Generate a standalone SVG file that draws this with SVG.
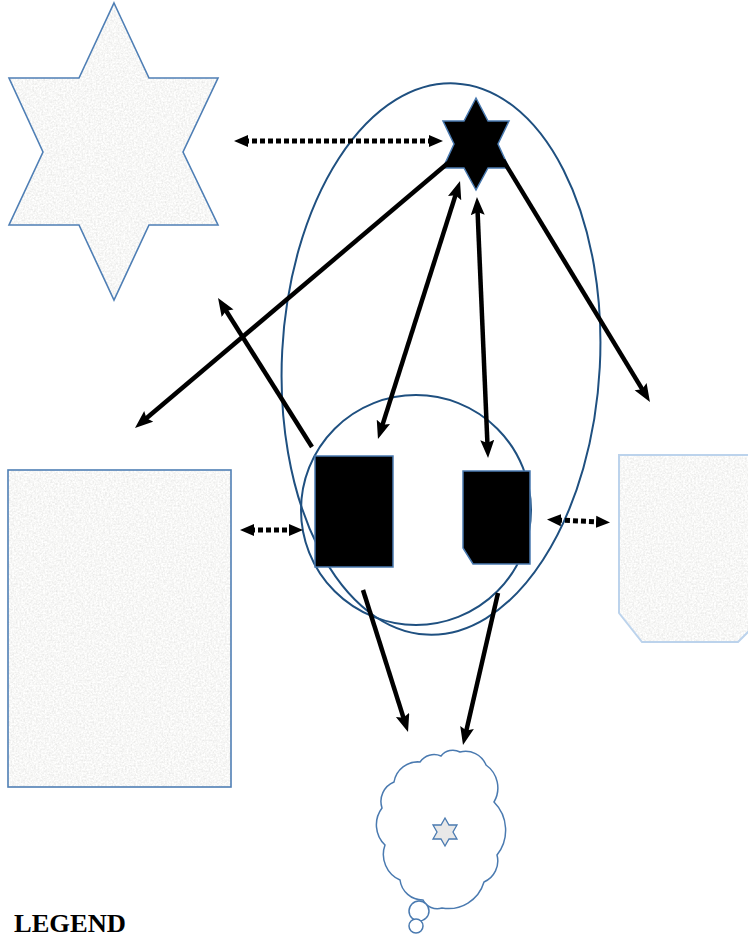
<svg xmlns="http://www.w3.org/2000/svg" width="748" height="937" viewBox="0 0 748 937">
<style>
.tex{stroke:none;filter:url(#tex)}
.edge{fill:none;stroke:#4f7fb5;stroke-width:1.6}
.ring{fill:none;stroke:#1f5080;stroke-width:2}
.blk{fill:#000;stroke:#4a7ab0;stroke-width:1.5}
.arr{fill:none;stroke:#000;stroke-width:4.5;marker-end:url(#ah)}
.arr2{fill:none;stroke:#000;stroke-width:4.5;marker-start:url(#ah);marker-end:url(#ah)}
.dash{fill:none;stroke:#000;stroke-width:5;stroke-dasharray:5 3;marker-start:url(#dh);marker-end:url(#dh)}
.legend{font-family:"Liberation Serif","Times New Roman",serif;font-weight:bold;font-size:25px;fill:#000}
</style>
<defs>
<filter id="tex">
<feTurbulence type="fractalNoise" baseFrequency="0.55" numOctaves="2" seed="4" result="n"/>
<feColorMatrix in="n" type="matrix" values="-0.34 0 0 0 1.1  -0.34 0 0 0 1.1  -0.34 0 0 0 1.09  0 0 0 0 1" result="c"/>
<feComposite in="c" in2="SourceGraphic" operator="in"/>
</filter>
<marker id="ah" markerUnits="userSpaceOnUse" markerWidth="20" markerHeight="16" refX="10" refY="7" orient="auto-start-reverse">
<path d="M0,0 L18,7 L0,14 L3,7 Z" fill="#000"/>
</marker>
<marker id="dh" markerUnits="userSpaceOnUse" markerWidth="16" markerHeight="16" refX="4" refY="7" orient="auto-start-reverse">
<path d="M0,1 L14,7 L0,13 Z" fill="#000"/>
</marker>
</defs>

<g id="star-big">
<polygon class="tex" fill="#eee" points="114,3 149,78 218,78 183,152 218,225 149,225 114,300 79,225 9,225 43,152 9,78 79,78"/>
<polygon class="edge" points="114,3 149,78 218,78 183,152 218,225 149,225 114,300 79,225 9,225 43,152 9,78 79,78"/>
</g>

<g id="rect-left">
<rect class="tex" fill="#eee" x="8" y="470" width="223" height="317"/>
<rect class="edge" x="8" y="470" width="223" height="317"/>
</g>

<g id="shape-right">
<path class="tex" fill="#eee" d="M619,455 H760 V620 L738,642 H642 L619,613 Z"/>
<path fill="none" stroke="#bcd3ec" stroke-width="2" d="M619,455 H760 V620 L738,642 H642 L619,613 Z"/>
</g>

<g id="ellipse-group">
<ellipse class="ring" cx="441" cy="359" rx="159" ry="276" transform="rotate(3 441 359)"/>
</g>

<g id="circle-group">
<circle class="ring" cx="416" cy="510" r="115"/>
</g>

<g id="star-black">
<polygon class="blk" points="476,98 488,121 509,121 498,144 509,168 488,168 476,190 464,168 443,168 454,144 443,121 464,121"/>
</g>

<g id="block-left">
<rect class="blk" x="315" y="456" width="78" height="111"/>
</g>

<g id="block-right">
<path class="blk" d="M463,471 H530 V564 H473 L463,548 Z"/>
</g>

<g id="cloud">
<path fill="#fff" stroke="#4a7ab0" stroke-width="1.5" d="M394,782 A24,24 0 0 1 420,762 A17,17 0 0 1 441,756 A15,15 0 0 1 460,752 A22,22 0 0 1 486,765 A28,28 0 0 1 494,802 A40,40 0 0 1 497,855 A23,23 0 0 1 484,882 A37,37 0 0 1 442,908 A16,16 0 0 1 423,900 A23,23 0 0 1 400,880 A28,28 0 0 1 385,845 A28,28 0 0 1 382,808 A21,21 0 0 1 394,782 Z"/>
<circle cx="419" cy="911" r="10" fill="#fff" stroke="#4a7ab0" stroke-width="1.5"/>
<circle cx="416" cy="926" r="7" fill="#fff" stroke="#4a7ab0" stroke-width="1.5"/>
<polygon fill="#e8e8e8" stroke="#4a7ab0" stroke-width="1.3" points="445,818 449,825 457,825 453,832 457,839 449,839 445,846 441,839 433,839 437,832 433,825 441,825"/>
</g>

<g id="connectors">
<line class="dash" x1="244" y1="141" x2="433" y2="141"/>
<line class="arr" x1="448" y1="163" x2="141.1" y2="422.8"/>
<line class="arr" x1="312" y1="447" x2="222.3" y2="304.8"/>
<line class="arr2" x1="457.6" y1="188.6" x2="380.4" y2="431.4"/>
<line class="arr2" x1="477.3" y1="205" x2="487.7" y2="450"/>
<line class="arr" x1="503" y1="160" x2="645.8" y2="395.2"/>
<line class="dash" x1="250" y1="530" x2="293" y2="530"/>
<line class="dash" x1="557" y1="520" x2="600" y2="522"/>
<line class="arr" x1="363" y1="590" x2="405.6" y2="724.4"/>
<line class="arr" x1="498" y1="593" x2="464.8" y2="737.2"/>
</g>

<text class="legend" x="14" y="932" textLength="112" lengthAdjust="spacingAndGlyphs">LEGEND</text>
</svg>
